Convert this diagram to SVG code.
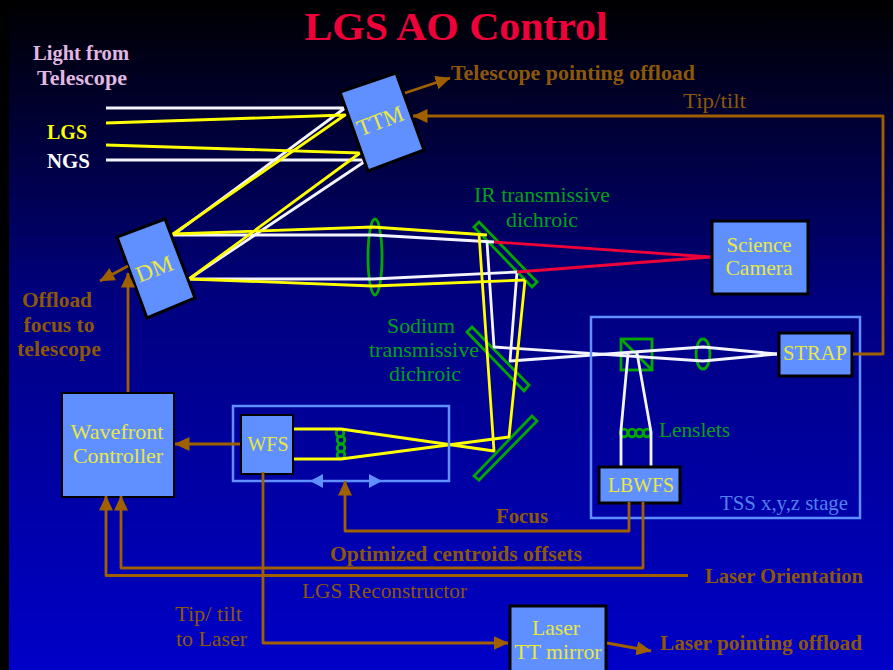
<svg xmlns="http://www.w3.org/2000/svg" width="893" height="670" viewBox="0 0 893 670">
<style>
text{font-family:"Liberation Serif",serif;font-size:21px}
.m{text-anchor:middle}
.b{font-weight:bold}
.y{fill:#e8e840}
.br{fill:#8c5808}
.g{fill:#00a018}
.node{fill:#6090ff;stroke:#000;stroke-width:3}
.frame{fill:none;stroke:#6090ff;stroke-width:2.5}
.opt{fill:none;stroke:#00a800;stroke-width:2.8}
.w{fill:none;stroke:#f4f4ff;stroke-width:2.8;stroke-linejoin:round}
.yl{fill:none;stroke:#ffff00;stroke-width:2.8;stroke-linejoin:round}
.r{fill:none;stroke:#f00038;stroke-width:2.8}
.c{fill:none;stroke:#a06000;stroke-width:2.8;stroke-linejoin:round}
.a{marker-end:url(#h)}
</style>
<defs>
<linearGradient id="bg" x1="0" y1="0" x2="0" y2="1">
<stop offset="0" stop-color="#000000"/>
<stop offset="0.45" stop-color="#000080"/>
<stop offset="1" stop-color="#0000c8"/>
</linearGradient>
<marker id="h" markerUnits="userSpaceOnUse" markerWidth="17" markerHeight="16" refX="14.5" refY="7" orient="auto">
<path d="M0,0L15,7L0,14z" fill="#a06000"/>
</marker>
</defs>
<rect width="893" height="670" fill="#000"/>
<rect x="9" width="884" height="670" fill="url(#bg)"/>

<text id="title" x="456" y="40" class="m b" style="font-size:41px" fill="#f00038" textLength="303" lengthAdjust="spacingAndGlyphs">LGS AO Control</text>

<g id="optics">
<polygon class="opt" points="474,227 479,222 537,282 532,287"/>
<polygon class="opt" points="467,332 472,327 529,385 524,391"/>
<polygon class="opt" points="474,476 479,480 537,421 532,416"/>
<ellipse class="opt" cx="375" cy="257" rx="7" ry="38"/>
<ellipse class="opt" cx="703" cy="354" rx="7" ry="15"/>
<rect class="opt" x="621" y="339" width="31" height="31"/>
<line class="opt" x1="621" y1="339" x2="652" y2="370"/>
<circle class="opt" cx="624" cy="433" r="3.8"/><circle class="opt" cx="632" cy="433" r="3.8"/><circle class="opt" cx="639.500" cy="433" r="3.8"/><circle class="opt" cx="647" cy="433" r="3.8"/>
<circle class="opt" cx="340" cy="433" r="3.8"/><circle class="opt" cx="341" cy="440" r="3.8"/><circle class="opt" cx="341" cy="448" r="3.8"/><circle class="opt" cx="341" cy="455" r="3.8"/>
</g>

<g id="beams">
<path class="w" d="M106,108H345L173,235H373L494,242"/>
<path class="w" d="M106,160H367L189,279H373L517,272"/>
<path class="w" d="M487,242L494,347L703,361L777,354"/>
<path class="w" d="M517,272L510,361L703,347L777,354"/>
<path class="w" d="M628,354L621,430V466"/>
<path class="w" d="M637,353L651,432V466"/>
<path class="r" d="M494,242L711,257L517,272"/>
<path class="yl" d="M106,123L345,115L173,234L373,227L487,235"/>
<path class="yl" d="M106,145L360,153L189,279L373,286L525,280"/>
<path class="yl" d="M479,234L494,451L341,429H294"/>
<path class="yl" d="M525,280L509,437L341,459H294"/>
</g>

<rect id="tss-stage" class="frame" x="591" y="317" width="269" height="201"/>
<rect id="wfs-stage" class="frame" x="233" y="406" width="216" height="75"/>
<g id="stage-arrow">
<polygon points="310,481 323,474 323,488" fill="#6090ff"/>
<polygon points="382,481 369,474 369,488" fill="#6090ff"/>
</g>

<g id="node-ttm">
<polygon class="node" points="340,92 396,73 424,150 368,171"/>
<text class="m y" style="font-size:23px" transform="translate(383,128) rotate(-21)" textLength="48" lengthAdjust="spacingAndGlyphs">TTM</text>
</g>
<g id="node-dm">
<polygon class="node" points="117,237 165,219 195,298 147,318"/>
<text class="m y" style="font-size:23px" transform="translate(157,276) rotate(-21)" textLength="38" lengthAdjust="spacingAndGlyphs">DM</text>
</g>
<g id="node-science-camera">
<rect class="node" x="712" y="221" width="96" height="73"/>
<text class="m y" x="759" y="252" textLength="65" lengthAdjust="spacingAndGlyphs">Science</text>
<text class="m y" x="759" y="275" textLength="67" lengthAdjust="spacingAndGlyphs">Camera</text>
</g>
<g id="node-strap">
<rect class="node" x="779" y="333" width="73" height="43"/>
<text class="m y" x="815" y="360" textLength="64" lengthAdjust="spacingAndGlyphs">STRAP</text>
</g>
<g id="node-lbwfs">
<rect class="node" x="599" y="467" width="81" height="36"/>
<text class="m y" x="641" y="492" textLength="66" lengthAdjust="spacingAndGlyphs">LBWFS</text>
</g>
<g id="node-wavefront-controller">
<rect class="node" style="stroke-width:2" x="62" y="393" width="112" height="104"/>
<text class="m y" x="117" y="439" textLength="93" lengthAdjust="spacingAndGlyphs">Wavefront</text>
<text class="m y" x="118" y="463" textLength="90" lengthAdjust="spacingAndGlyphs">Controller</text>
</g>
<g id="node-wfs">
<rect class="node" style="stroke-width:2" x="241" y="415" width="52" height="59"/>
<text class="m y" x="268" y="451" textLength="41" lengthAdjust="spacingAndGlyphs">WFS</text>
</g>
<g id="node-laser-tt-mirror">
<rect class="node" x="510" y="606" width="96" height="70"/>
<text class="m y" x="556" y="635" textLength="48" lengthAdjust="spacingAndGlyphs">Laser</text>
<text class="m y" x="558" y="659" textLength="87" lengthAdjust="spacingAndGlyphs">TT mirror</text>
</g>

<g id="connectors">
<line class="c a" x1="405" y1="93" x2="450" y2="78"/>
<path class="c a" d="M853,354H883V116H413"/>
<line class="c a" x1="128" y1="266" x2="100" y2="281"/>
<line class="c a" x1="128" y1="392" x2="128" y2="273"/>
<line class="c a" x1="240" y1="444" x2="175" y2="444"/>
<path class="c a" d="M263,472V643H508"/>
<path class="c a" d="M629,502V531H345V481"/>
<path class="c a" d="M643,502V568H121V496"/>
<path class="c a" d="M688,575.500H106V496"/>
<line class="c a" x1="607" y1="643" x2="651" y2="651"/>
</g>

<g id="labels">
<text class="m b" x="81" y="60" fill="#e0b8e0" textLength="96" lengthAdjust="spacingAndGlyphs">Light from</text>
<text class="m b" x="82" y="85" fill="#e0b8e0" textLength="90" lengthAdjust="spacingAndGlyphs">Telescope</text>
<text class="b" x="47" y="139" fill="#ffff00" textLength="40" lengthAdjust="spacingAndGlyphs">LGS</text>
<text class="b" x="47" y="168" fill="#fff" textLength="43" lengthAdjust="spacingAndGlyphs">NGS</text>
<text class="b br" x="451" y="80" textLength="244" lengthAdjust="spacingAndGlyphs">Telescope pointing offload</text>
<text class="br" x="683" y="108" textLength="63" lengthAdjust="spacingAndGlyphs">Tip/tilt</text>
<text class="m b br" x="57" y="307" textLength="70" lengthAdjust="spacingAndGlyphs">Offload</text>
<text class="m b br" x="59" y="332" textLength="71" lengthAdjust="spacingAndGlyphs">focus to</text>
<text class="m b br" x="59" y="356" textLength="84" lengthAdjust="spacingAndGlyphs">telescope</text>
<text class="b br" x="496" y="523" textLength="52" lengthAdjust="spacingAndGlyphs">Focus</text>
<text class="b br" x="330" y="561" textLength="252" lengthAdjust="spacingAndGlyphs">Optimized centroids offsets</text>
<text class="br" x="302" y="598" textLength="165" lengthAdjust="spacingAndGlyphs">LGS Reconstructor</text>
<text class="br" x="175" y="621" textLength="67" lengthAdjust="spacingAndGlyphs">Tip/ tilt</text>
<text class="br" x="176" y="646" textLength="71" lengthAdjust="spacingAndGlyphs">to Laser</text>
<text class="b br" x="705" y="583" textLength="158" lengthAdjust="spacingAndGlyphs">Laser Orientation</text>
<text class="b br" x="660" y="650" textLength="202" lengthAdjust="spacingAndGlyphs">Laser pointing offload</text>
<text class="m g" x="542" y="202" textLength="136" lengthAdjust="spacingAndGlyphs">IR transmissive</text>
<text class="m g" x="542" y="227" textLength="72" lengthAdjust="spacingAndGlyphs">dichroic</text>
<text class="m g" x="421" y="333" textLength="68" lengthAdjust="spacingAndGlyphs">Sodium</text>
<text class="m g" x="424" y="357" textLength="110" lengthAdjust="spacingAndGlyphs">transmissive</text>
<text class="m g" x="425" y="381" textLength="72" lengthAdjust="spacingAndGlyphs">dichroic</text>
<text class="g" x="659" y="437" textLength="71" lengthAdjust="spacingAndGlyphs">Lenslets</text>
<text x="720" y="510" fill="#5080f0" textLength="128" lengthAdjust="spacingAndGlyphs">TSS x,y,z stage</text>
</g>
</svg>
